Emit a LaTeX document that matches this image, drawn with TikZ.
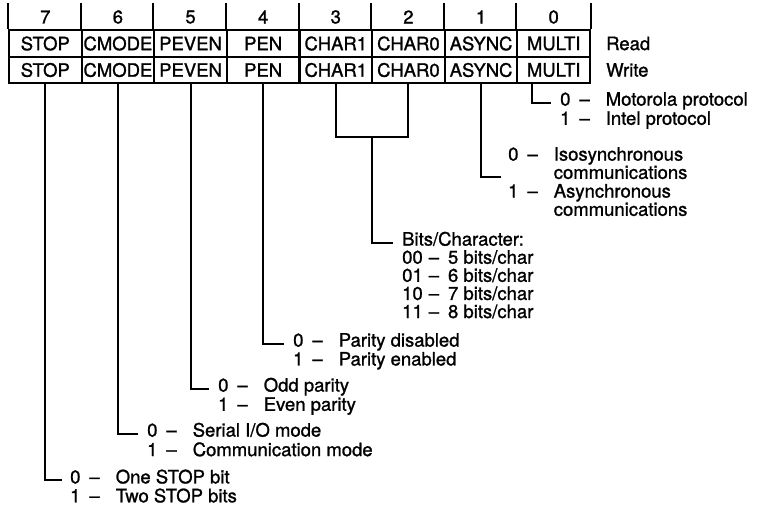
\documentclass[tikz,border=0pt]{standalone}
\usepackage{fontspec}
\setmainfont{TeX Gyre Heros}[FakeBold=1.2]
\usepackage{tikz}
\usetikzlibrary{positioning}

\tikzset{
  cell/.style={draw, line width=2pt, minimum width=72.6pt, minimum height=26.5pt, inner sep=0pt},
  desc/.style={anchor=base west, inner sep=0pt},
  lead/.style={line width=2pt},
}

\begin{document}
\begin{tikzpicture}[x=1pt, y=-1pt, font=\fontsize{18.5}{19}\selectfont]
  \useasboundingbox (0,0) rectangle (763,505);
  \foreach \b/\name in {7/STOP,6/CMODE,5/PEVEN,4/PEN,3/CHAR1,2/CHAR0,1/ASYNC,0/MULTI} {
    \node[cell] (r\b) at ({45.3+72.625*(7-\b)},43.5) {\name};
    \node[cell] (w\b) at ({45.3+72.625*(7-\b)},70) {\name};
    \node[inner sep=0pt] (n\b) at ({45.3+72.625*(7-\b)},17) {\b};
    \draw[lead] (r\b.north west) -- ++(0,-26);
  }
  \draw[lead] (r0.north east) -- ++(0,-26);
  \node[right=15pt of r0, inner sep=0pt] (rd) {Read};
  \node[right=15pt of w0, inner sep=0pt] (wr) {Write};

  \node[desc] (d0) at (560,105.6) {\begin{tabular}[t]{@{}r@{\hspace{9pt}}c@{\hspace{16pt}}l@{}}
    0 & -- & Motorola protocol\\ 1 & -- & Intel protocol\end{tabular}};
  \node[desc, font=\fontsize{18.5}{17.3}\selectfont] (d1) at (508,160.6) {\begin{tabular}[t]{@{}r@{\hspace{9pt}}c@{\hspace{16pt}}l@{}}
    0 & -- & Isosynchronous\\ & & communications\\ 1 & -- & Asynchronous\\ & & communications\end{tabular}};
  \node[desc, font=\fontsize{18.5}{15.4}\selectfont] (dc) at (402,245.6) {\begin{tabular}[t]{@{}r@{\hspace{6pt}}c@{\hspace{9pt}}l@{}}
    \multicolumn{3}{@{}l@{}}{Bits/Character:}\\ 00 & -- & 5 bits/char\\ 01 & -- & 6 bits/char\\
    10 & -- & 7 bits/char\\ 11 & -- & 8 bits/char\end{tabular}};
  \node[desc, font=\fontsize{18.5}{18}\selectfont] (d4) at (293,346.6) {\begin{tabular}[t]{@{}r@{\hspace{9pt}}c@{\hspace{16pt}}l@{}}
    0 & -- & Parity disabled\\ 1 & -- & Parity enabled\end{tabular}};
  \node[desc] (d5) at (218,391.6) {\begin{tabular}[t]{@{}r@{\hspace{9pt}}c@{\hspace{16pt}}l@{}}
    0 & -- & Odd parity\\ 1 & -- & Even parity\end{tabular}};
  \node[desc] (d6) at (147,436.6) {\begin{tabular}[t]{@{}r@{\hspace{9pt}}c@{\hspace{16pt}}l@{}}
    0 & -- & Serial I/O mode\\ 1 & -- & Communication mode\end{tabular}};
  \node[desc, font=\fontsize{18.5}{17}\selectfont] (d7) at (70,483.4) {\begin{tabular}[t]{@{}r@{\hspace{9pt}}c@{\hspace{16pt}}l@{}}
    0 & -- & One STOP bit\\ 1 & -- & Two STOP bits\end{tabular}};

  \coordinate (j) at (372.1,137);
  \draw[lead] ([xshift=-21.7pt]w0.south) |- ([xshift=-9pt,yshift=3pt]d0.base west);
  \draw[lead] (w1.south) |- ([xshift=-7pt,yshift=-16.4pt]d1.base west);
  \draw[lead] (w3.south) |- (j) -| (w2.south);
  \draw[lead] (j) |- ([xshift=-9pt,yshift=3pt]dc.base west);
  \draw[lead] (w4.south) |- ([xshift=-9pt,yshift=3pt]d4.base west);
  \draw[lead] (w5.south) |- ([xshift=-9pt,yshift=3pt]d5.base west);
  \draw[lead] (w6.south) |- ([xshift=-9pt,yshift=3pt]d6.base west);
  \draw[lead] (w7.south) |- ([xshift=-8pt,yshift=3pt]d7.base west);
\end{tikzpicture}
\end{document}
